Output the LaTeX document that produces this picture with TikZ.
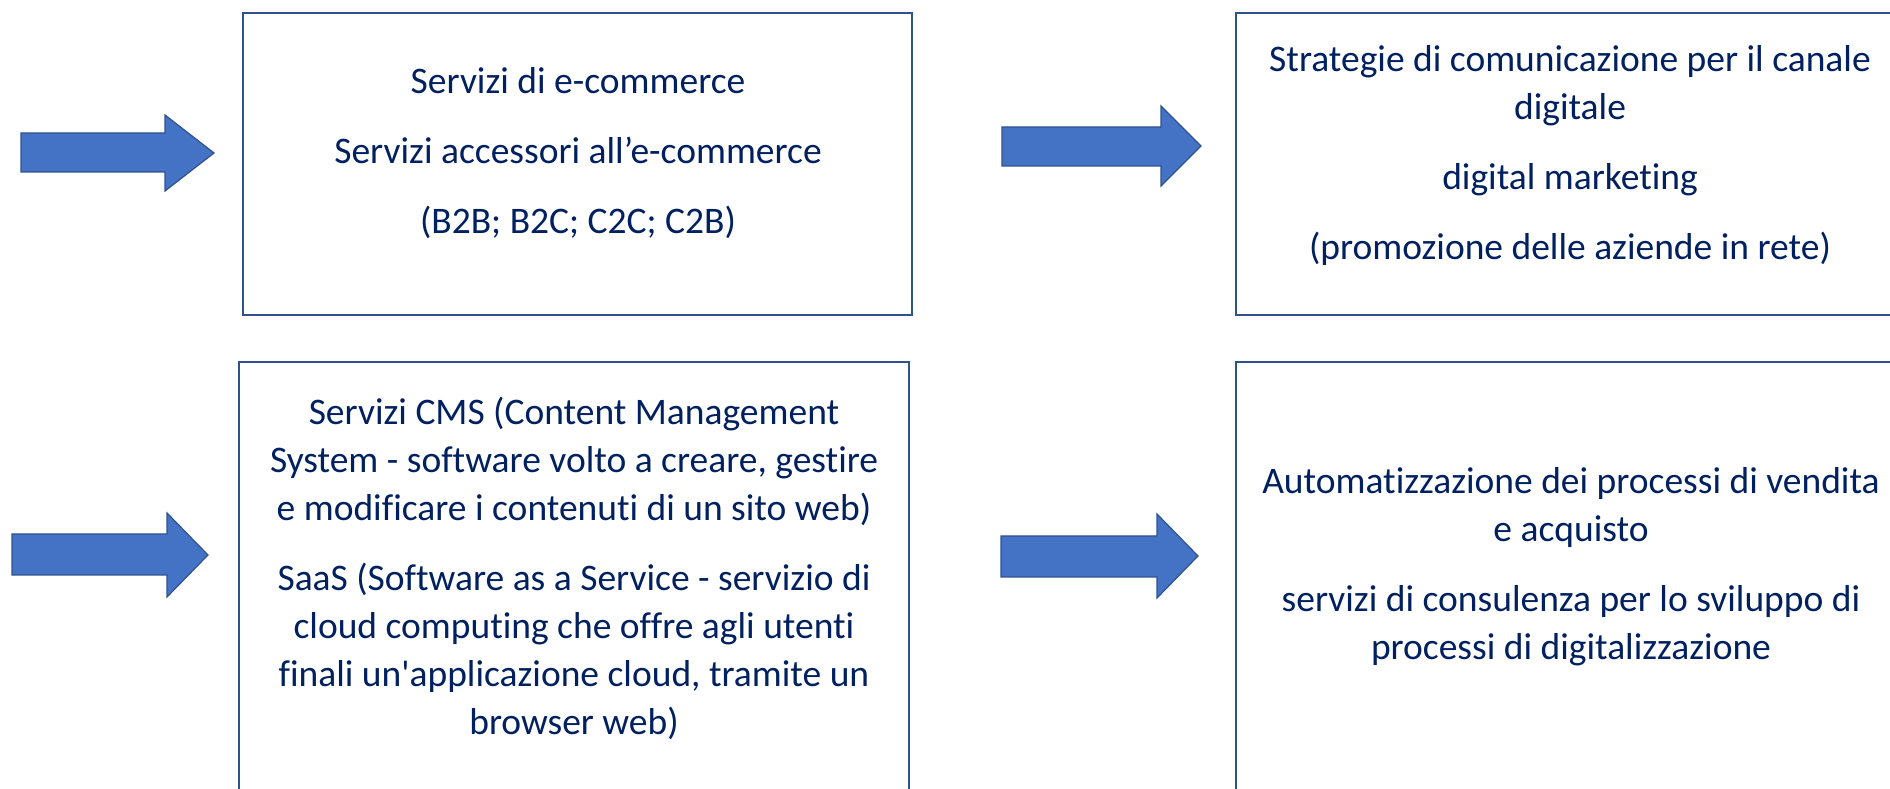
\documentclass[tikz,border=0pt]{standalone}
\usepackage{fontspec}
\newfontfamily\calfont{Carlito}[Ligatures=NoCommon]
\definecolor{boxline}{HTML}{2F528F}
\definecolor{arrowfill}{HTML}{4472C4}
\definecolor{txt}{HTML}{002060}
\begin{document}
\begin{tikzpicture}[x=1pt,y=1pt,
  panel/.style={draw=boxline,line width=2.2pt,fill=none},
  label/.style={text=txt,align=center,font=\calfont\fontsize{37.5}{48}\selectfont,inner sep=0pt},
  fatarrow/.style={fill=arrowfill,draw=boxline,line width=1.2pt,line join=miter}]
\clip (0,0) rectangle (1890,789);
\fill[white] (0,0) rectangle (1890,789);
% boxes
\draw[panel] (243,474) rectangle (912,776);
\draw[panel] (1236,474) rectangle (1910,776);
\draw[panel] (239,-30) rectangle (909,427);
\draw[panel] (1236,-30) rectangle (1910,427);
% arrows
\draw[fatarrow] (21,656) -- (165,656) -- (165,674) -- (214,636) -- (165,598) -- (165,617) -- (21,617) -- cycle;
\draw[fatarrow] (1002,662) -- (1161,662) -- (1161,683) -- (1201,643) -- (1161,603) -- (1161,623) -- (1002,623) -- cycle;
\draw[fatarrow] (12,255) -- (167,255) -- (167,276) -- (208,234) -- (167,192) -- (167,214) -- (12,214) -- cycle;
\draw[fatarrow] (1001,253) -- (1157,253) -- (1157,275) -- (1198,233) -- (1157,191) -- (1157,212) -- (1001,212) -- cycle;
% texts
\node[label] (t1) at (578,636) {Servizi di e-commerce\\[22pt]Servizi accessori all’e-commerce\\[22pt](B2B; B2C; C2C; C2B)};
\node[label] (t2) at (1570,633) {Strategie di comunicazione per il canale\\digitale\\[22pt]digital marketing\\[22pt](promozione delle aziende in rete)};
\node[label] (t3) at (574,221) {Servizi CMS (Content Management\\System - software volto a creare, gestire\\e modificare i contenuti di un sito web)\\[22pt]SaaS (Software as a Service - servizio di\\cloud computing che offre agli utenti\\finali un'applicazione cloud, tramite un\\browser web)};
\node[label] (t4) at (1571,222) {Automatizzazione dei processi di vendita\\e acquisto\\[22pt]servizi di consulenza per lo sviluppo di\\processi di digitalizzazione};
\end{tikzpicture}
\end{document}
